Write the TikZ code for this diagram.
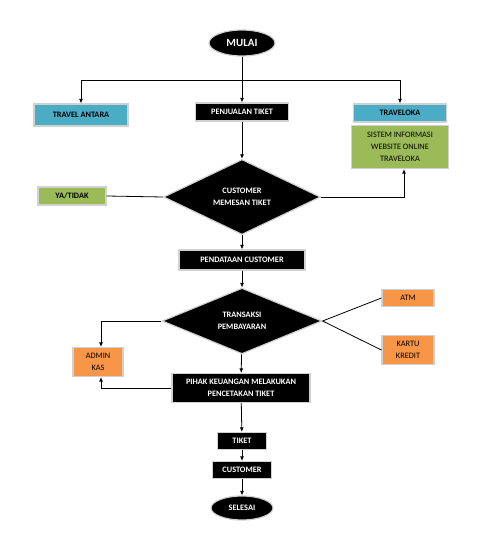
\documentclass[tikz,border=0pt]{standalone}
\usepackage{fontspec}
\setmainfont{Carlito}
\usetikzlibrary{shapes.geometric,arrows.meta}

\definecolor{birumuda}{HTML}{4BACC6}
\definecolor{hijau}{HTML}{9BBB59}
\definecolor{oranye}{HTML}{F79646}

\tikzset{
  kotak/.style={rectangle, draw=black!18, line width=1.2pt, inner sep=0pt, align=center,
                font=\fontsize{8.3}{12}\selectfont},
  hitam/.style={kotak, fill=black, text=white, font=\bfseries\fontsize{8.3}{12}\selectfont},
  biru/.style={kotak, fill=birumuda, font=\bfseries\fontsize{8.3}{12}\selectfont},
  hijaubox/.style={kotak, fill=hijau},
  oranyebox/.style={kotak, fill=oranye},
  keputusan/.style={diamond, fill=black, text=white, draw=black!18, line width=1.2pt, inner sep=0pt,
                align=center, font=\bfseries\fontsize{8.3}{12}\selectfont},
  terminal/.style={ellipse, fill=black, text=white, draw=black!18, line width=1.2pt, inner sep=0pt},
  panah/.style={-{Latex[length=4.5pt,width=4pt]}, line width=0.8pt},
  garis/.style={line width=0.8pt}
}

\begin{document}
\begin{tikzpicture}[x=1pt,y=-1pt]
   \useasboundingbox (0,0) rectangle (477,534);

   \node[terminal, minimum width=66, minimum height=26, font=\bfseries\fontsize{11}{13}\selectfont] (mulai) at (242,43) {MULAI};
   \coordinate (cabang) at (242,80);

   \node[biru, minimum width=94, minimum height=22] (travel) at (81,115) {TRAVEL ANTARA};
   \node[hitam, minimum width=93, minimum height=18] (jual) at (242,112) {PENJUALAN TIKET};
   \node[biru, minimum width=93, minimum height=18] (traveloka) at (400,113) {TRAVELOKA};
   \node[hijaubox, minimum width=97, minimum height=43] (sistem) at (400,147) {SISTEM INFORMASI\\WEBSITE ONLINE\\TRAVELOKA};

   \node[keputusan, minimum width=157, minimum height=58] (pesan) at (242,197) {CUSTOMER\\MEMESAN TIKET};
   \node[hijaubox, minimum width=68, minimum height=18, font=\bfseries\fontsize{8.3}{12}\selectfont] (yatidak) at (72,196) {YA/TIDAK};

   \node[hitam, minimum width=126, minimum height=20] (data) at (242,260) {PENDATAAN CUSTOMER};

   \node[keputusan, minimum width=160, minimum height=48] (bayar) at (242,321) {TRANSAKSI\\PEMBAYARAN};
   \node[oranyebox, minimum width=52, minimum height=17] (atm) at (408,298) {ATM};
   \node[oranyebox, minimum width=52, minimum height=29] (kartu) at (408,350) {KARTU\\KREDIT};
   \node[oranyebox, minimum width=50, minimum height=29] (admin) at (98,362) {ADMIN\\KAS};

   \node[hitam, minimum width=138, minimum height=29] (pihak) at (241,388) {PIHAK KEUANGAN MELAKUKAN\\PENCETAKAN TIKET};
   \node[hitam, minimum width=49, minimum height=17] (tiket) at (242,441) {TIKET};
   \node[hitam, minimum width=59, minimum height=17] (cust) at (242,470) {CUSTOMER};
   \node[terminal, minimum width=62, minimum height=24, font=\bfseries\fontsize{8.3}{10}\selectfont] (selesai) at (242,508) {SELESAI};

   \draw[garis] (mulai) -- (cabang);
   \draw[panah] (cabang) -| (travel.north);
   \draw[panah] (cabang) -- (jual);
   \draw[panah] (cabang) -| (traveloka.north);
   \draw[panah] (jual) -- (pesan);
   \draw[garis] (pesan.west) -- (yatidak.east);
   \draw[panah] (pesan.east) -| ([xshift=4pt]sistem.south);
   \draw[panah] (pesan) -- (data);
   \draw[panah] (data) -- (bayar);
   \draw[garis] (bayar.east) -- (atm.west);
   \draw[garis] (bayar.east) -- (kartu.west);
   \draw[panah] (bayar.west) -| ([xshift=3pt]admin.north);
   \draw[panah] (bayar) -- (pihak);
   \draw[panah] (pihak.west) -| ([xshift=3pt]admin.south);
   \draw[panah] (pihak) -- (tiket);
   \draw[panah] (tiket) -- (cust);
   \draw[panah] (cust) -- (selesai);
\end{tikzpicture}
\end{document}
